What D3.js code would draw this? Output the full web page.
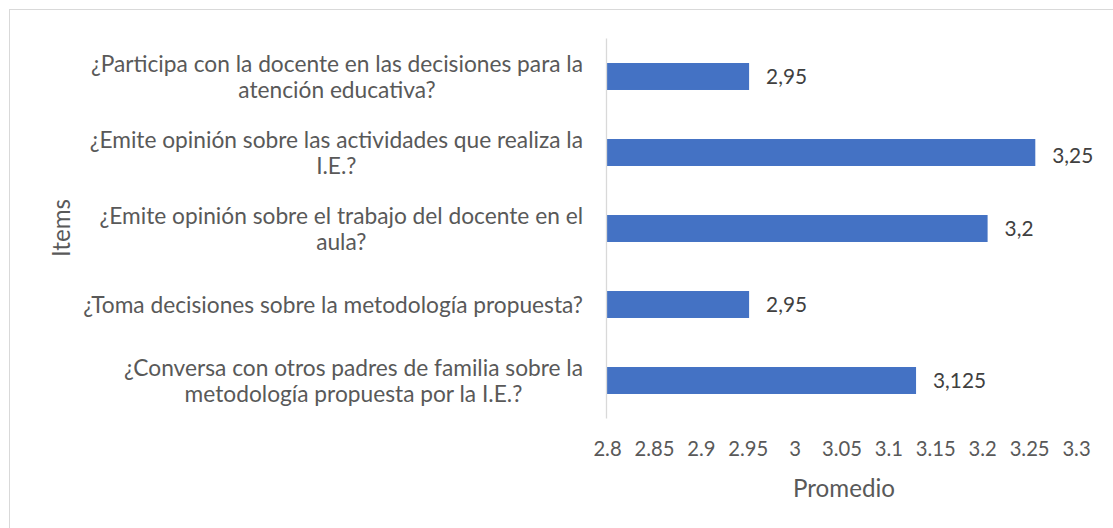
<!DOCTYPE html>
<html><head><meta charset="utf-8">
<script src="https://cdn.jsdelivr.net/npm/d3@7/dist/d3.min.js"></script>
<style>body{margin:0;background:#fff}svg{display:block}</style>
</head><body>
<script>
const categories = [
  ["¿Participa con la docente en las decisiones para la", "atención educativa?"],
  ["¿Emite opinión sobre las actividades que realiza la", "I.E.?"],
  ["¿Emite opinión sobre el trabajo del docente en el", "aula?"],
  ["¿Toma decisiones sobre la metodología propuesta?"],
  ["¿Conversa con otros padres de familia sobre la", "metodología propuesta por la I.E.?"]
];
const values = [2.95, 3.25, 3.2, 2.95, 3.125];
const valueLabels = ["2,95", "3,25", "3,2", "2,95", "3,125"];
const tickValues = [2.8, 2.85, 2.9, 2.95, 3, 3.05, 3.1, 3.15, 3.2, 3.25, 3.3];
const xTitle = "Promedio";
const yTitle = "Items";

const W = 1113, H = 528;
const font = "Lato, 'Open Sans', sans-serif";
const svg = d3.select("body").append("svg").attr("width", W).attr("height", H);

// font-size fitting helper: size that makes `str` measure `target` px wide
function fitSize(str, target) {
  const t = svg.append("text").attr("font-family", font).attr("font-size", 20).text(str);
  const w = t.node().getComputedTextLength();
  t.remove();
  return 20 * target / w;
}
const catSize = fitSize("¿Toma decisiones sobre la metodología propuesta?", 500);
const tickSize = fitSize("3.25", 40);
const valSize = fitSize("3,125", 53);
const titleSize = fitSize("Promedio", 102);

svg.append("rect").attr("x", 9.5).attr("y", 9.5).attr("width", W).attr("height", H)
  .attr("fill", "#fff").attr("stroke", "#d9d9d9");

const x = d3.scaleLinear().domain([2.8, 3.3]).range([606, 1083]);
const xTick = d3.scaleLinear().domain([2.8, 3.3]).range([607, 1076]);
const y = d3.scaleBand().domain(d3.range(categories.length)).range([38.5, 418.5])
  .paddingInner(0.645).paddingOuter(0.3225);

// bars
svg.selectAll("rect.bar").data(values).join("rect").attr("class", "bar")
  .attr("x", x(2.8) + 1).attr("y", (d, i) => y(i))
  .attr("width", d => x(d) - x(2.8) - 1).attr("height", y.bandwidth())
  .attr("fill", "#4472c4");

// axis line
svg.append("line").attr("x1", 606.5).attr("x2", 606.5).attr("y1", 38.5).attr("y2", 418.5)
  .attr("stroke", "#d9d9d9").attr("stroke-width", 1.3);

// value labels
svg.selectAll("text.val").data(values).join("text").attr("class", "val")
  .attr("x", d => x(d) + 17).attr("y", (d, i) => y(i) + y.bandwidth() / 2 + (d >= 3.25 ? 3 : 0))
  .attr("dy", "0.35em").attr("font-family", font).attr("font-size", valSize)
  .attr("fill", "#404040").text((d, i) => valueLabels[i]);

// x axis tick labels
const xAxis = d3.axisBottom(xTick).tickValues(tickValues).tickSize(0).tickPadding(0)
  .tickFormat(d3.format("~g"));
const gx = svg.append("g").attr("transform", "translate(0,440)").call(xAxis);
gx.select(".domain").remove();
gx.selectAll("text").attr("font-family", font).attr("font-size", tickSize).attr("fill", "#595959")
  .attr("dy", "0.35em").attr("y", 9);

// category labels
const gc = svg.append("g");
categories.forEach((lines, i) => {
  const cy = y(i) + y.bandwidth() / 2;
  const t = gc.append("text").attr("font-family", font).attr("font-size", catSize)
    .attr("fill", "#595959").attr("text-anchor", "middle");
  const lh = 26;
  const n = lines.length;
  lines.forEach((ln, j) => {
    t.append("tspan").attr("x", 0).attr("y", cy + (j - (n - 1) / 2) * lh + 1).attr("dy", "0.35em").text(ln);
  });
  const bw = t.node().getBBox().width;
  t.attr("transform", `translate(${583 - bw / 2},0)`);
});

// titles
svg.append("text").attr("x", 844).attr("y", 489).attr("dy", "0.35em")
  .attr("text-anchor", "middle").attr("font-family", font).attr("font-size", titleSize)
  .attr("fill", "#595959").text(xTitle);
svg.append("text").attr("transform", "translate(62,228) rotate(-90)").attr("dy", "0.35em")
  .attr("text-anchor", "middle").attr("font-family", font).attr("font-size", titleSize)
  .attr("fill", "#595959").text(yTitle);
</script>
</body></html>
